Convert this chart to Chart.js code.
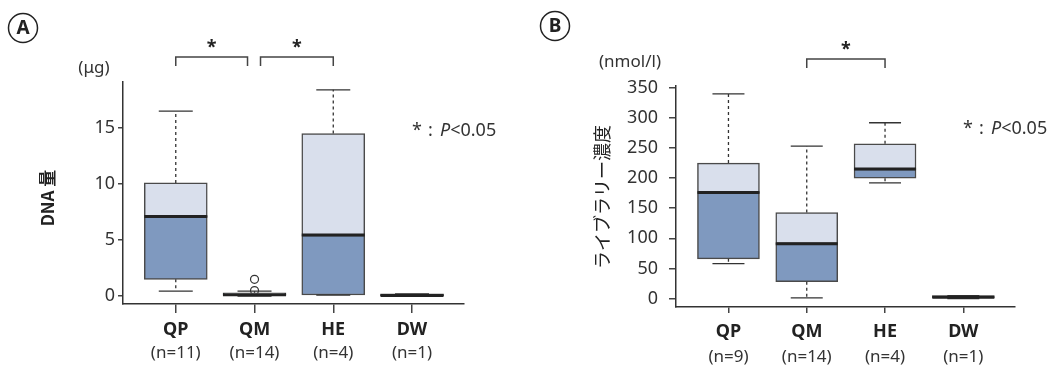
<!DOCTYPE html>
<html>
<head>
<meta charset="utf-8">
<script src="https://cdn.jsdelivr.net/npm/chart.js@4/dist/chart.umd.min.js"></script>
<style>
  body { margin:0; background:#fff; width:1054px; height:365px; overflow:hidden; position:relative; }
  canvas { position:absolute; top:0; }
  #ca { left:0; }
  #cb { left:527px; }
</style>
</head>
<body>
<canvas id="ca" width="527" height="365"></canvas>
<canvas id="cb" width="527" height="365"></canvas>
<script>
// catégories et effectifs
const categories = ['QP', 'QM', 'HE', 'DW'];
const countsA = ['(n=11)', '(n=14)', '(n=4)', '(n=1)'];
const countsB = ['(n=9)', '(n=14)', '(n=4)', '(n=1)'];

// A : DNA量 (μg) — moustache basse, Q1, médiane, Q3, moustache haute
const lowA  = [0.45, 0,    0.1,  0];
const q1A   = [1.5,  0,    0.1,  0];
const medA  = [7.1,  0.12, 5.45, 0.05];
const q3A   = [10.1, 0.3,  14.5, 0.2];
const highA = [16.5, 0.45, 18.4, 0.2];
const outCatA = [1, 1];
const outValA = [0.5, 1.5];
const yTicksA = [0, 5, 10, 15];
const bracketsA = [[0, 1], [1, 2]];

// B : ライブラリー濃度 (nmol/l)
const lowB  = [58,  1,   192, 0];
const q1B   = [66,  28,  200, 0];
const medB  = [176, 91,  215, 2];
const q3B   = [225, 143, 257, 5];
const highB = [340, 253, 292, 5];
const yTicksB = [0, 50, 100, 150, 200, 250, 300, 350];
const bracketsB = [[1, 2]];

const FONT = "'Noto Sans', 'Noto Sans CJK JP', sans-serif";
const JP = "'Noto Sans CJK JP', 'Noto Sans', sans-serif";
Chart.defaults.font.family = FONT;

// moustaches, médianes
const boxParts = {
  id: 'boxParts',
  afterDatasetsDraw(chart, args, o) {
    const {ctx} = chart, x = chart.scales.x, y = chart.scales.y;
    ctx.save();
    o.low.forEach((_, i) => {
      const cx = x.getPixelForValue(i);
      const pLow = y.getPixelForValue(o.low[i]), pQ1 = y.getPixelForValue(o.q1[i]);
      const pQ3 = y.getPixelForValue(o.q3[i]), pHigh = y.getPixelForValue(o.high[i]);
      const pMed = y.getPixelForValue(o.med[i]);
      ctx.strokeStyle = '#333';
      ctx.lineWidth = 1.3;
      ctx.setLineDash([3, 3]);
      ctx.beginPath();
      if (pHigh < pQ3 - 1) { ctx.moveTo(cx, pQ3); ctx.lineTo(cx, pHigh); }
      if (pLow > pQ1 + 1) { ctx.moveTo(cx, pQ1); ctx.lineTo(cx, pLow); }
      ctx.stroke();
      ctx.setLineDash([]);
      ctx.beginPath();
      ctx.moveTo(cx - o.cap/2, pHigh); ctx.lineTo(cx + o.cap/2, pHigh);
      ctx.moveTo(cx - o.cap/2, pLow); ctx.lineTo(cx + o.cap/2, pLow);
      ctx.stroke();
      ctx.strokeStyle = '#222';
      ctx.lineWidth = 3;
      ctx.beginPath();
      ctx.moveTo(cx - o.box/2, pMed); ctx.lineTo(cx + o.box/2, pMed);
      ctx.stroke();
    });
    ctx.restore();
  }
};

// lettre, unité, titre, crochets, note
const deco = {
  id: 'deco',
  afterDraw(chart, args, o) {
    const {ctx, chartArea} = chart, x = chart.scales.x;
    ctx.save();
    ctx.fillStyle = '#222';
    ctx.strokeStyle = '#222';
    // lettre cerclée
    ctx.lineWidth = 1.5;
    ctx.beginPath();
    ctx.arc(o.letterPos[0], o.letterPos[1], 14.5, 0, Math.PI*2);
    ctx.stroke();
    ctx.font = 'bold 19px ' + FONT;
    ctx.textAlign = 'center';
    ctx.textBaseline = 'middle';
    ctx.fillText(o.letter, o.letterPos[0], o.letterPos[1] + 1);
    // unité
    ctx.fillStyle = '#333';
    ctx.font = '17px ' + FONT;
    ctx.fillText(o.unit, o.unitPos[0], o.unitPos[1]);
    // titre axe y
    ctx.save();
    ctx.translate(o.titlePos[0], o.titlePos[1]);
    ctx.rotate(-Math.PI/2);
    ctx.fillStyle = '#222';
    ctx.font = o.titleFont;
    ctx.fillText(o.title, 0, 0);
    ctx.restore();
    // crochets de significativité
    ctx.strokeStyle = '#444';
    ctx.lineWidth = 1.5;
    ctx.font = 'bold 18px ' + FONT;
    ctx.textBaseline = 'alphabetic';
    o.brackets.forEach(([a, b]) => {
      let x1 = x.getPixelForValue(a), x2 = x.getPixelForValue(b);
      if (o.brackets.some(br => br[1] === a)) x1 += 6;
      if (o.brackets.some(br => br[0] === b)) x2 -= 7;
      const top = chartArea.top - o.bracketRise;
      ctx.beginPath();
      ctx.moveTo(x1, top + 9); ctx.lineTo(x1, top); ctx.lineTo(x2, top); ctx.lineTo(x2, top + 9);
      ctx.stroke();
      ctx.fillStyle = '#222';
      ctx.fillText('*', (x1 + x2)/2, top - 4);
    });
    // note P<0.05
    ctx.textAlign = 'left';
    ctx.fillStyle = '#333';
    const [nx, ny] = o.notePos;
    ctx.font = '18px ' + FONT;
    ctx.fillText('*', nx, ny);
    ctx.fillText(':', nx + 16, ny);
    ctx.font = 'italic 18px ' + FONT;
    ctx.fillText('P', nx + 28, ny);
    const pw = ctx.measureText('P').width;
    ctx.font = '18px ' + FONT;
    ctx.fillText('<0.05', nx + 28 + pw, ny);
    ctx.restore();
  }
};

function makeChart(id, d) {
  const n = d.q1.length;
  const idx = Array.from({length: n}, (_, i) => i);
  const catTicks = s => { s.ticks = idx.map(i => ({value: i})); };
  return new Chart(document.getElementById(id), {
    type: 'bar',
    data: {
      datasets: [
        { data: idx.map(i => ({x: i, y: [d.q1[i], d.med[i]]})), backgroundColor: '#7F99BF' },
        { data: idx.map(i => ({x: i, y: [d.med[i], d.q3[i]]})), backgroundColor: '#D9DFEC' },
        { type: 'scatter', data: d.outCat.map((c, k) => ({x: c, y: d.outVal[k]})),
          pointRadius: 4, borderColor: '#333', borderWidth: 1.2, backgroundColor: 'rgba(0,0,0,0)' }
      ]
    },
    options: {
      responsive: false,
      animation: false,
      layout: { padding: d.padding },
      datasets: { bar: { barThickness: d.box, grouped: false, borderColor: '#4a4a4a', borderWidth: 1.5, borderSkipped: false } },
      plugins: {
        legend: { display: false },
        tooltip: { enabled: false },
        boxParts: { low: d.low, q1: d.q1, med: d.med, q3: d.q3, high: d.high, box: d.box, cap: d.cap },
        deco: d.deco
      },
      scales: {
        x: {
          type: 'linear', position: 'bottom', min: -0.67, max: 3.66, offset: false,
          afterBuildTicks: catTicks,
          afterFit: s => { s.height = d.xh[0]; },
          ticks: { callback: v => categories[v], autoSkip: false, maxRotation: 0, padding: d.xpad[0],
                   color: '#222', font: { size: 18, weight: 'bold' } },
          grid: { offset: false, drawOnChartArea: false, tickLength: d.xtick, color: '#444', lineWidth: 1.5 },
          border: { color: '#333', width: 1.5 }
        },
        x2: {
          type: 'linear', position: 'bottom', min: -0.67, max: 3.66, offset: false,
          afterBuildTicks: catTicks,
          afterFit: s => { s.height = d.xh[1]; },
          ticks: { callback: v => d.counts[v], autoSkip: false, maxRotation: 0, padding: d.xpad[1],
                   color: '#333', font: { size: 17 } },
          grid: { display: false, drawTicks: false, offset: false },
          border: { display: false }
        },
        y: {
          min: d.ymin, max: d.ymax,
          afterBuildTicks: s => { s.ticks = d.yTicks.map(v => ({value: v})); },
          afterFit: s => { s.width = 50; },
          ticks: { color: '#333', font: { size: 18 }, padding: d.ypad },
          grid: { drawOnChartArea: false, tickLength: d.ytick, color: '#444', lineWidth: 1.5 },
          border: { color: '#333', width: 1.5 }
        }
      }
    },
    plugins: [boxParts, deco]
  });
}

makeChart('ca', {
  low: lowA, q1: q1A, med: medA, q3: q3A, high: highA,
  outCat: outCatA, outVal: outValA, counts: countsA, yTicks: yTicksA,
  ymin: -0.7, ymax: 19.1, box: 63, cap: 34,
  padding: { left: 73, right: 63, top: 82, bottom: 0 },
  xh: [36, 25], xpad: [6, 3], xtick: 9, ytick: 5, ypad: 3,
  deco: { letter: 'A', letterPos: [23, 28], unit: '(μg)', unitPos: [94, 68],
          title: 'DNA 量', titleFont: 'bold 17px ' + JP, titlePos: [48, 198],
          brackets: bracketsA, bracketRise: 25, notePos: [412, 136] }
});

makeChart('cb', {
  low: lowB, q1: q1B, med: medB, q3: q3B, high: highB,
  outCat: [], outVal: [], counts: countsB, yTicks: yTicksB,
  ymin: -14, ymax: 353, box: 62, cap: 32,
  padding: { left: 99, right: 39, top: 86, bottom: 0 },
  xh: [34, 24], xpad: [8, 6], xtick: 6, ytick: 7, ypad: 11,
  deco: { letter: 'B', letterPos: [28, 26], unit: '(nmol/l)', unitPos: [103, 62],
          title: 'ライブラリー濃度', titleFont: '18px ' + JP, titlePos: [75, 197],
          brackets: bracketsB, bracketRise: 27, notePos: [436, 134] }
});
</script>
</body>
</html>
